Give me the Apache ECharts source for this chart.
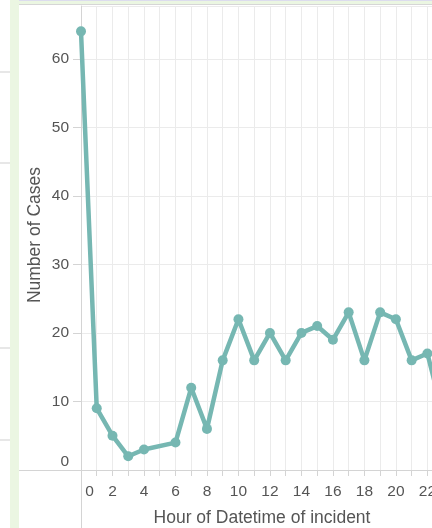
<!DOCTYPE html>
<html>
<head>
<meta charset="utf-8">
<script src="https://cdn.jsdelivr.net/npm/echarts@6/dist/echarts.min.js"></script>
<style>
  html, body { margin: 0; padding: 0; background: #fff; }
  #container { width: 432px; height: 528px; }
</style>
</head>
<body>
<div id="container"></div>
<script>
// hour 5 has no cases in the source, so it is left out
var hours = [0, 1, 2, 3, 4, 6, 7, 8, 9, 10, 11, 12, 13, 14, 15, 16, 17, 18, 19, 20, 21, 22, 23];
var cases = [64, 9, 5, 2, 3, 4, 12, 6, 16, 22, 16, 20, 16, 20, 21, 19, 23, 16, 23, 22, 16, 17, 8];
var xTitle = 'Hour of Datetime of incident';
var yTitle = 'Number of Cases';

var dom = document.getElementById('container');
var myChart = echarts.init(dom);

var points = hours.map(function (h, i) { return [h, cases[i]]; });

var gray = '#d4d4d4';
var grid = '#ebebeb';
var textColor = '#555';
var font = 'Liberation Sans, Arial, sans-serif';

var option = {
    animation: false,
    // the plot runs past the right edge of the picture (hour 23 is cut off)
    grid: { left: 81, right: -19, top: 6, bottom: 58, outerBoundsMode: 'none', containLabel: false },
    xAxis: {
        type: 'value',
        min: 0,
        max: 23.5,
        interval: 1,
        axisLine: { lineStyle: { color: gray } },
        axisTick: { show: true, length: 6, lineStyle: { color: gray } },
        splitLine: { show: true, lineStyle: { color: grid, width: 1 } },
        axisLabel: {
            color: textColor,
            fontSize: 15.5,
            fontFamily: font,
            margin: 14,
            alignMinLabel: 'left',
            showMaxLabel: false,
            formatter: function (v) {
                if (v === 0) return ' 0';
                return (v % 2 === 0 && v <= 22) ? String(v) : '';
            }
        }
    },
    yAxis: {
        type: 'value',
        min: 0,
        max: 67.7,
        interval: 10,
        axisLine: { show: true, lineStyle: { color: gray } },
        axisTick: { show: true, length: 8, lineStyle: { color: gray } },
        splitLine: { show: true, lineStyle: { color: grid, width: 1 } },
        axisLabel: {
            color: textColor,
            fontSize: 15.5,
            fontFamily: font,
            margin: 12,
            showMaxLabel: false,
            verticalAlignMinLabel: 'bottom',
            formatter: function (v) {
                return (v % 10 === 0) ? String(v) : '';
            }
        }
    },
    graphic: [
        // left side strip from the surrounding page
        { type: 'rect', shape: { x: 10, y: 0, width: 9, height: 528 }, style: { fill: '#ebf6e2' }, silent: true },
        { type: 'line', shape: { x1: 0, y1: 72, x2: 10, y2: 72 }, style: { stroke: '#cfcfcf', lineWidth: 1 } },
        { type: 'line', shape: { x1: 0, y1: 163, x2: 10, y2: 163 }, style: { stroke: '#cfcfcf', lineWidth: 1 } },
        { type: 'line', shape: { x1: 0, y1: 348, x2: 10, y2: 348 }, style: { stroke: '#cfcfcf', lineWidth: 1 } },
        { type: 'line', shape: { x1: 0, y1: 440, x2: 10, y2: 440 }, style: { stroke: '#cfcfcf', lineWidth: 1 } },
        // top band
        { type: 'rect', shape: { x: 19, y: 0, width: 413, height: 1 }, style: { fill: '#dcdcee' } },
        { type: 'rect', shape: { x: 19, y: 1, width: 413, height: 3 }, style: { fill: '#ebf6e2' } },
        { type: 'rect', shape: { x: 19, y: 4, width: 413, height: 1 }, style: { fill: '#d6d6d6' } },
        // axis line extensions
        { type: 'line', shape: { x1: 19, y1: 470.5, x2: 81, y2: 470.5 }, style: { stroke: gray, lineWidth: 1 } },
        { type: 'line', shape: { x1: 81.5, y1: 470, x2: 81.5, y2: 528 }, style: { stroke: gray, lineWidth: 1 } },
        // axis titles
        {
            type: 'text', x: 262, y: 518,
            style: { text: xTitle, fill: textColor, fontSize: 17.5, fontFamily: font, align: 'center', verticalAlign: 'middle' }
        },
        {
            type: 'text', x: 35, y: 235, rotation: Math.PI / 2,
            style: { text: yTitle, fill: textColor, fontSize: 17.5, fontFamily: font, align: 'center', verticalAlign: 'middle' }
        }
    ],
    series: [
        {
            type: 'line',
            data: points,
            symbol: 'circle',
            symbolSize: 10,
            lineStyle: { color: '#76b7b2', width: 4.5 },
            itemStyle: { color: '#76b7b2' },
            clip: false
        }
    ]
};

myChart.setOption(option);
</script>
</body>
</html>
